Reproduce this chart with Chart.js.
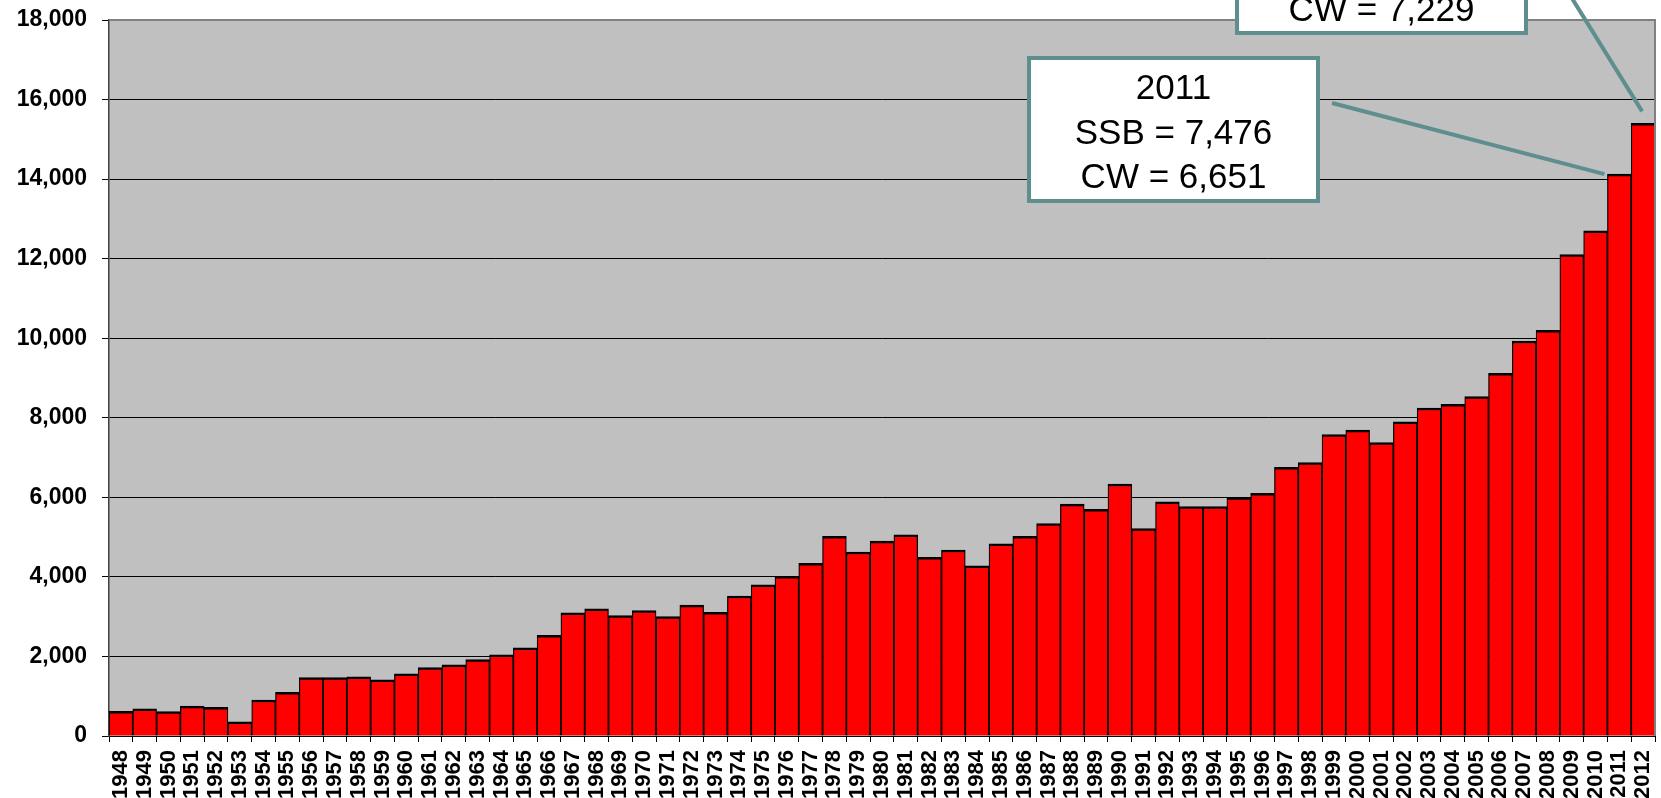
<!DOCTYPE html>
<html>
<head>
<meta charset="utf-8">
<title>Landings by year 1948-2012</title>
<script src="https://cdn.jsdelivr.net/npm/chart.js@4.4.1/dist/chart.umd.min.js"></script>
<style>
    html, body { margin: 0; padding: 0; background: #ffffff; }
    #chart { display: block; }
</style>
</head>
<body>
<canvas id="chart" width="1661" height="798"></canvas>
<script>
/**
 * Yearly values 1948-2012
 */
const years = [
    '1948', '1949', '1950', '1951', '1952', '1953', '1954', '1955', '1956', '1957',
    '1958', '1959', '1960', '1961', '1962', '1963', '1964', '1965', '1966', '1967',
    '1968', '1969', '1970', '1971', '1972', '1973', '1974', '1975', '1976', '1977',
    '1978', '1979', '1980', '1981', '1982', '1983', '1984', '1985', '1986', '1987',
    '1988', '1989', '1990', '1991', '1992', '1993', '1994', '1995', '1996', '1997',
    '1998', '1999', '2000', '2001', '2002', '2003', '2004', '2005', '2006', '2007',
    '2008', '2009', '2010', '2011', '2012'
];

const values = [
    620, 680, 615, 750, 720, 355, 905, 1100, 1470, 1470,
    1490, 1415, 1560, 1720, 1790, 1920, 2040, 2215, 2530, 3095,
    3195, 3025, 3150, 3000, 3290, 3110, 3520, 3800, 4015, 4340,
    5020, 4625, 4900, 5055, 4490, 4675, 4275, 4830, 5020, 5340,
    5830, 5700, 6335, 5215, 5885, 5770, 5770, 5995, 6100, 6755,
    6875, 7575, 7690, 7375, 7900, 8245, 8335, 8530, 9115, 9930,
    10200, 12100, 12700, 14125, 15400
];

const yTicks = [0, 2000, 4000, 6000, 8000, 10000, 12000, 14000, 16000, 18000];

// callout texts (the 2012 box is cut off by the top of the picture)
const callout2011 = ['2011', 'SSB = 7,476', 'CW = 6,651'];
const callout2012 = ['CW = 7,229'];

const FONT = "'Liberation Sans', Arial, sans-serif";
const CALLOUT_COLOR = '#5e8e8e';

/**
 * Grey plot background + grey frame on top/right
 */
const plotFrame = {
    id: 'plotFrame',
    beforeDraw(chart) {
        const { ctx, chartArea } = chart;
        ctx.save();
        ctx.fillStyle = '#c0c0c0';
        ctx.fillRect(chartArea.left, chartArea.top, chartArea.right - chartArea.left, chartArea.bottom - chartArea.top);
        ctx.restore();
    },
    afterDatasetsDraw(chart) {
        const { ctx, chartArea } = chart;
        ctx.save();
        ctx.strokeStyle = '#808080';
        ctx.lineWidth = 2;
        ctx.beginPath();
        ctx.moveTo(chartArea.left, chartArea.top);
        ctx.lineTo(chartArea.right, chartArea.top);
        ctx.lineTo(chartArea.right, chartArea.bottom);
        ctx.stroke();
        ctx.restore();
    }
};

/**
 * Draw a boxed callout with centred lines of text
 */
function drawCallout(ctx, box, lines, firstBaseline) {
    ctx.fillStyle = '#ffffff';
    ctx.fillRect(box.x, box.y, box.w, box.h);
    ctx.strokeStyle = CALLOUT_COLOR;
    ctx.lineWidth = 4;
    ctx.strokeRect(box.x, box.y, box.w, box.h);

    ctx.fillStyle = '#000000';
    ctx.font = '35px ' + FONT;
    ctx.textAlign = 'center';
    ctx.textBaseline = 'alphabetic';
    lines.forEach(function(line, i) {
        ctx.fillText(line, box.x + box.w / 2, firstBaseline + i * 44.5);
    });
}

const callouts = {
    id: 'callouts',
    afterDraw(chart) {
        const { ctx } = chart;
        const xs = chart.scales.x;
        const ys = chart.scales.y;
        const i11 = years.indexOf('2011');
        const i12 = years.indexOf('2012');
        const half = (xs.getPixelForValue(1) - xs.getPixelForValue(0)) / 2;

        ctx.save();
        ctx.lineCap = 'butt';

        // leader lines, ending at the tops of the 2011 and 2012 bars
        ctx.strokeStyle = CALLOUT_COLOR;
        ctx.lineWidth = 4;
        ctx.beginPath();
        ctx.moveTo(1332, 103);
        ctx.lineTo(xs.getPixelForValue(i11) - half - 3, ys.getPixelForValue(values[i11]));
        ctx.stroke();

        const end12x = xs.getPixelForValue(i12) - 1;
        const end12y = ys.getPixelForValue(values[i12]) - 12;
        ctx.beginPath();
        ctx.moveTo(1560, -21);
        ctx.lineTo(end12x, end12y);
        ctx.stroke();

        drawCallout(ctx, { x: 1237, y: -120, w: 289, h: 153 }, callout2012, 21);
        drawCallout(ctx, { x: 1029, y: 58, w: 289, h: 143 }, callout2011, 99);

        ctx.restore();
    }
};

// drop the extra room Chart.js reserves for overhanging tick labels
function noOverhang(scale) {
    scale.paddingTop = 0;
    scale.paddingBottom = 0;
    scale.paddingLeft = 0;
    scale.paddingRight = 0;
}

document.addEventListener('DOMContentLoaded', function() {
    const ctx = document.getElementById('chart');

    new Chart(ctx, {
        type: 'bar',
        data: {
            labels: years,
            datasets: [{
                data: values,
                backgroundColor: '#ff0000',
                borderColor: '#000000',
                borderWidth: { top: 2.5, left: 1.25, right: 1.25, bottom: 0 },
                borderSkipped: false,
                categoryPercentage: 1.0,
                barPercentage: 1.0
            }]
        },
        plugins: [plotFrame, callouts],
        options: {
            responsive: false,
            animation: false,
            devicePixelRatio: 1,
            layout: { padding: { top: 20, right: 6, left: 0, bottom: 0 } },
            plugins: {
                legend: { display: false },
                tooltip: { enabled: false }
            },
            scales: {
                x: {
                    grid: {
                        drawOnChartArea: false,
                        drawTicks: true,
                        tickLength: 6,
                        color: '#000000',
                        lineWidth: 1
                    },
                    border: { display: true, color: '#000000', width: 1 },
                    ticks: {
                        autoSkip: false,
                        minRotation: 90,
                        maxRotation: 90,
                        padding: 8,
                        color: '#000000',
                        font: { family: FONT, size: 22, weight: 'bold' }
                    },
                    afterFit(scale) {
                        scale.height = 62;
                        noOverhang(scale);
                    }
                },
                y: {
                    min: 0,
                    max: 18000,
                    afterBuildTicks(scale) {
                        scale.ticks = yTicks.map(v => ({ value: v }));
                    },
                    grid: {
                        color: '#000000',
                        lineWidth: 1,
                        tickLength: 7
                    },
                    border: { display: true, color: '#404040', width: 1.5 },
                    ticks: {
                        padding: 15,
                        color: '#000000',
                        font: { family: FONT, size: 23, weight: 'bold' },
                        callback: v => v.toLocaleString('en-US')
                    },
                    afterFit(scale) {
                        scale.width = 109;
                        noOverhang(scale);
                    }
                }
            }
        }
    });
});
</script>
</body>
</html>
